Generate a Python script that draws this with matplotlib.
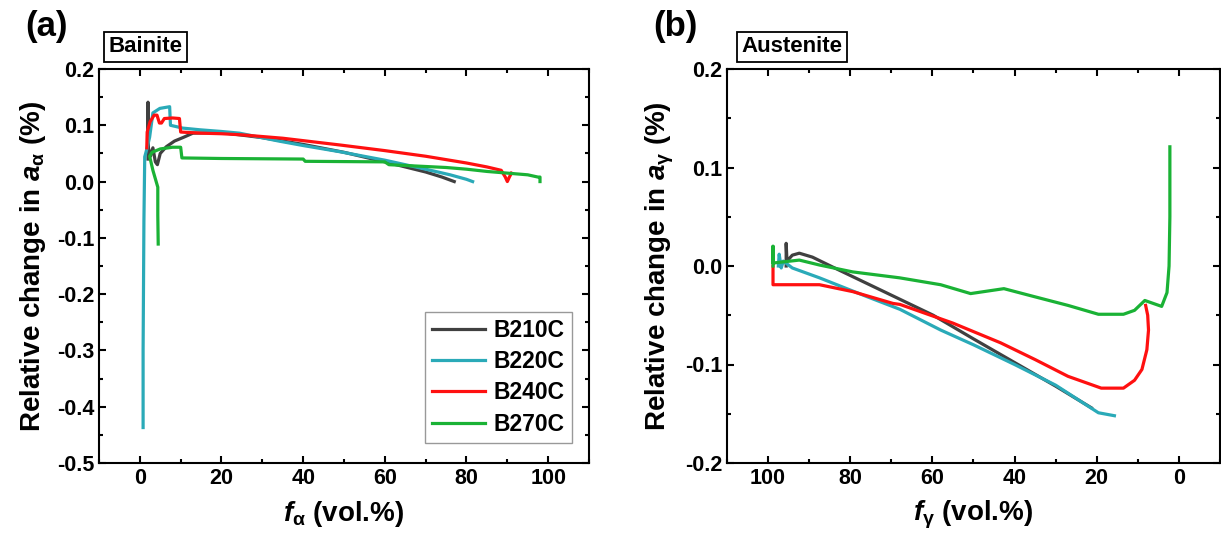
import numpy as np
import matplotlib.pyplot as plt
from matplotlib.ticker import MultipleLocator

plt.rcParams['font.family'] = ['Liberation Sans', 'DejaVu Sans']
plt.rcParams['font.weight'] = 'bold'
plt.rcParams['mathtext.fontset'] = 'custom'
plt.rcParams['mathtext.it'] = 'Liberation Sans:bold:italic'
plt.rcParams['mathtext.rm'] = 'Liberation Sans'

labels = ['B210C', 'B220C', 'B240C', 'B270C']
colors = ['#404040', '#2aaab8', '#ff1010', '#1ab235']

# (a) bainite: lattice change vs bainite fraction
b210c_a_x = [2.0, 2.0, 2.1, 2.6, 3.2, 3.8, 4.3, 5.0, 6.5, 8.5, 10.5, 13.0, 20, 30, 40, 50, 60, 65, 70, 74, 77]
b210c_a_y = [0.04, 0.141, 0.06, 0.045, 0.06, 0.035, 0.03, 0.05, 0.062, 0.072, 0.078, 0.086, 0.087, 0.078, 0.066, 0.052, 0.035, 0.026, 0.017, 0.008, 0.0]

b220c_a_x = [0.8, 0.8, 1.0, 1.2, 1.8, 2.4, 3.2, 4.9, 7.3, 7.5, 10.5, 14.7, 20, 24.4, 34, 40, 49, 60, 70, 76, 80, 81.5]
b220c_a_y = [-0.437, -0.30, -0.07, 0.044, 0.06, 0.079, 0.122, 0.13, 0.133, 0.10, 0.095, 0.092, 0.089, 0.086, 0.072, 0.064, 0.053, 0.038, 0.022, 0.012, 0.004, 0.0]

b240c_a_x = [1.7, 1.8, 2.5, 3.5, 4.2, 4.8, 5.3, 6.0, 8.0, 9.7, 10.0, 15, 20, 25, 35, 49, 60, 70, 80, 85, 88.5, 89.5, 90.0, 90.5, 91]
b240c_a_y = [0.06, 0.088, 0.106, 0.118, 0.118, 0.104, 0.104, 0.112, 0.113, 0.112, 0.088, 0.086, 0.085, 0.083, 0.077, 0.065, 0.055, 0.045, 0.033, 0.026, 0.02, 0.008, 0.0, 0.008, 0.015]

b270c_a_x = [4.5, 4.4, 4.4, 3.2, 2.4, 3.0, 5.0, 8.0, 10.0, 10.3, 20, 40, 40.5, 60, 61, 75, 80, 85, 90, 95, 97.5, 98, 98]
b270c_a_y = [-0.111, -0.06, -0.01, 0.02, 0.045, 0.052, 0.058, 0.061, 0.061, 0.042, 0.041, 0.040, 0.036, 0.035, 0.03, 0.025, 0.022, 0.018, 0.015, 0.012, 0.008, 0.008, 0.0]

# (b) austenite: lattice change vs austenite fraction
b210c_b_x = [95.6, 95.6, 95.4, 94.1, 92.4, 89.2, 84.3, 72.8, 59.8, 50, 40, 30, 21.3]
b210c_b_y = [0.0, 0.023, 0.005, 0.011, 0.013, 0.009, -0.001, -0.024, -0.05, -0.074, -0.098, -0.122, -0.144]

b220c_b_x = [97.5, 97.3, 96.8, 96.3, 94.1, 87.5, 76, 67.9, 58, 50, 40, 30, 19.6, 17, 15.7]
b220c_b_y = [0.0, 0.012, -0.002, 0.005, -0.002, -0.012, -0.031, -0.044, -0.065, -0.08, -0.1, -0.121, -0.149, -0.151, -0.152]

b240c_b_x = [98.8, 98.8, 98.8, 87.5, 79.4, 69.6, 67.9, 55, 43.4, 35, 27, 18.9, 13.5, 10.8, 9.0, 7.8, 7.4, 7.6, 8.1]
b240c_b_y = [0.0, -0.01, -0.019, -0.019, -0.026, -0.038, -0.039, -0.058, -0.078, -0.095, -0.112, -0.124, -0.124, -0.116, -0.105, -0.085, -0.065, -0.05, -0.040]

b270c_b_x = [98.8, 98.8, 98.8, 92.4, 87.5, 79.4, 68, 58, 50.7, 42.6, 35.3, 27, 19.6, 13.5, 10.8, 8.3, 4.2, 2.9, 2.4, 2.2, 2.2]
b270c_b_y = [0.0, 0.02, 0.003, 0.006, 0.001, -0.006, -0.012, -0.019, -0.028, -0.023, -0.031, -0.04, -0.049, -0.049, -0.045, -0.035, -0.041, -0.027, 0.0, 0.05, 0.121]

data_a = [(b210c_a_x, b210c_a_y), (b220c_a_x, b220c_a_y), (b240c_a_x, b240c_a_y), (b270c_a_x, b270c_a_y)]
data_b = [(b210c_b_x, b210c_b_y), (b220c_b_x, b220c_b_y), (b240c_b_x, b240c_b_y), (b270c_b_x, b270c_b_y)]


def style_axes(ax):
    for s in ax.spines.values():
        s.set_linewidth(1.5)
    ax.tick_params(which='both', direction='in', top=True, right=True, width=1.5, labelsize=15.5)
    ax.tick_params(which='major', length=5)
    ax.tick_params(which='minor', length=3)
    ax.xaxis.set_major_locator(MultipleLocator(20))
    ax.xaxis.set_minor_locator(MultipleLocator(10))
    ax.yaxis.set_minor_locator(MultipleLocator(0.05))
    ax.yaxis.set_major_formatter(plt.FormatStrFormatter('%.1f'))
    for lab in ax.get_xticklabels() + ax.get_yticklabels():
        lab.set_fontweight('bold')


fig = plt.figure(figsize=(12.21, 5.45), dpi=100)
ax1 = fig.add_axes([99 / 1221, 82 / 545, 490 / 1221, 394 / 545])
ax2 = fig.add_axes([727 / 1221, 82 / 545, 493 / 1221, 394 / 545])

for (x, y), lab, c in zip(data_a, labels, colors):
    ax1.plot(x, y, color=c, lw=2.3, label=lab)
ax1.set_xlim(-10, 110)
ax1.set_ylim(-0.5, 0.2)
ax1.yaxis.set_major_locator(MultipleLocator(0.1))
style_axes(ax1)
ax1.set_xlabel(r'$f_{\mathrm{\alpha}}$ (vol.%)', fontsize=20, fontweight='bold', labelpad=7)
ax1.set_ylabel(r'Relative change in $a_{\mathrm{\alpha}}$ (%)', fontsize=20, fontweight='bold', labelpad=6)
leg = ax1.legend(loc='lower right', bbox_to_anchor=(0.965, 0.052), fontsize=16.5, frameon=True, fancybox=False,
                 edgecolor='#808080', handlelength=2.3, labelspacing=0.36, borderpad=0.3, handletextpad=0.4,
                 borderaxespad=0.0)
leg.get_frame().set_linewidth(1.0)
for t in leg.get_texts():
    t.set_fontweight('bold')
ax1.text(0.02, 1.03, 'Bainite', transform=ax1.transAxes, fontsize=16, fontweight='bold', ha='left', va='bottom',
         bbox=dict(boxstyle='square,pad=0.2', fc='white', ec='black', lw=1.3))

for (x, y), lab, c in zip(data_b, labels, colors):
    ax2.plot(x, y, color=c, lw=2.3, label=lab)
ax2.set_xlim(110, -10)
ax2.set_ylim(-0.2, 0.2)
ax2.yaxis.set_major_locator(MultipleLocator(0.1))
style_axes(ax2)
ax2.set_xlabel(r'$f_{\mathrm{\gamma}}$ (vol.%)', fontsize=20, fontweight='bold', labelpad=7)
ax2.set_ylabel(r'Relative change in $a_{\mathrm{\gamma}}$ (%)', fontsize=20, fontweight='bold', labelpad=6)
ax2.text(0.03, 1.03, 'Austenite', transform=ax2.transAxes, fontsize=16, fontweight='bold', ha='left', va='bottom',
         bbox=dict(boxstyle='square,pad=0.2', fc='white', ec='black', lw=1.3))

fig.text(0.021, 0.952, '(a)', fontsize=25, fontweight='bold', va='center', ha='left')
fig.text(0.535, 0.952, '(b)', fontsize=25, fontweight='bold', va='center', ha='left')

plt.savefig('out.png', dpi=100)
